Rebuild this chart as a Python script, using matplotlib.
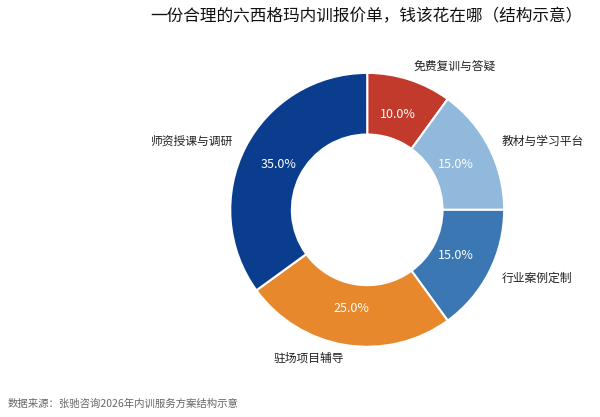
import matplotlib
matplotlib.use('Agg')
import matplotlib.pyplot as plt

plt.rcParams['font.family'] = ['Noto Sans CJK SC', 'DejaVu Sans']

# 数据
categories = ['免费复训与答疑', '教材与学习平台', '行业案例定制', '驻场项目辅导', '师资授课与调研']
shares = [10, 15, 15, 25, 35]
colors = ['#c23a2c', '#90b9db', '#3b78b3', '#e8882c', '#0b3d8e']

title = '一份合理的六西格玛内训报价单，钱该花在哪（结构示意）'
source = '数据来源：张驰咨询2026年内训服务方案结构示意'

fig = plt.figure(figsize=(6, 4.17), dpi=100)
ax = fig.add_axes([0.3265, 0.0863, 0.571, 0.821])

wedges, texts, autotexts = ax.pie(
    shares, labels=categories, colors=colors, startangle=90, counterclock=False,
    autopct='%1.1f%%', pctdistance=0.73, labeldistance=1.1,
    wedgeprops=dict(width=0.45, edgecolor='white', linewidth=1.5),
    textprops=dict(fontsize=8.5, color='#222222'))
for t in autotexts:
    t.set_color('white')
    t.set_fontsize(9)
ax.set_aspect('equal')

fig.text(0.61, 1 - 17 / 417, title, ha='center', va='center', fontsize=12, color='#111111')
fig.text(0.013, 1 - 404 / 417, source, ha='left', va='center', fontsize=7.5, color='#666666')

fig.savefig('out.png', dpi=100)
